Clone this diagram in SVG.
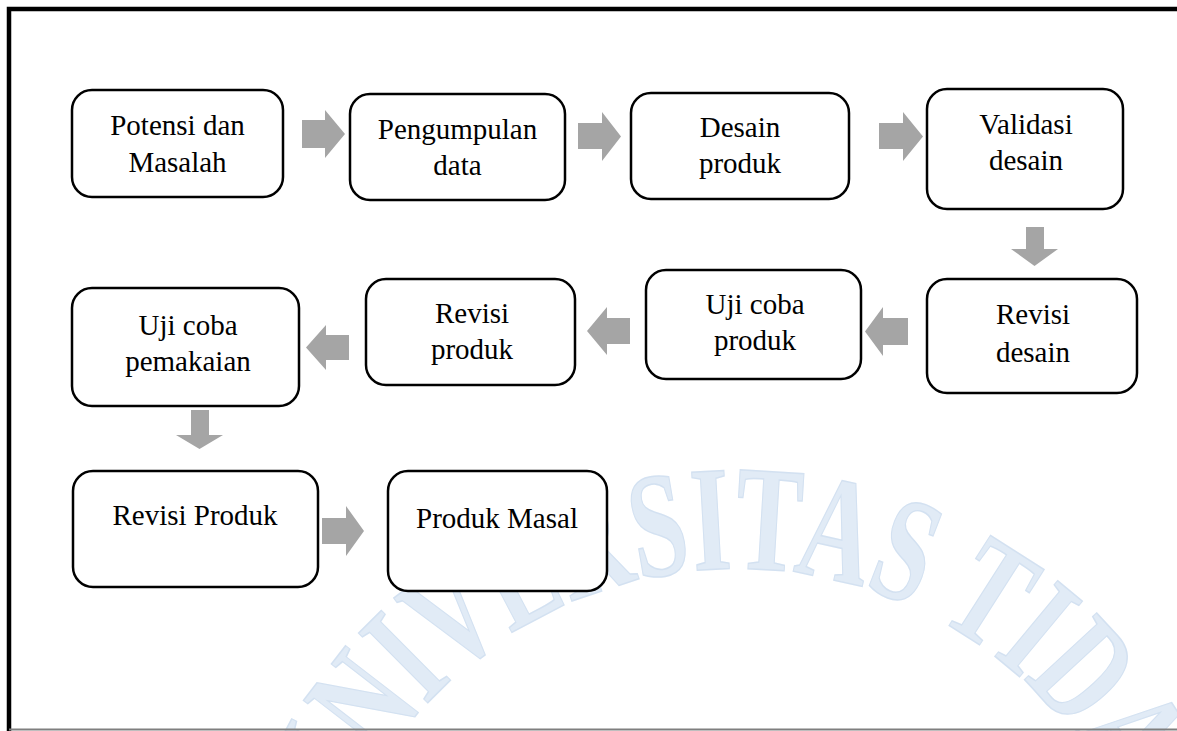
<svg xmlns="http://www.w3.org/2000/svg" width="1177" height="731" viewBox="0 0 1177 731">
<style>
.box{fill:#ffffff;stroke:#000000;stroke-width:2.5}
.lbl{font-family:"Liberation Serif","Times New Roman",serif;font-size:29px;fill:#000000;text-anchor:middle}
.arr{fill:#a5a5a5;stroke:none}
.wm{font-family:"Liberation Serif","Times New Roman",serif;font-size:150px;font-weight:bold;fill:#e1ebf6;stroke:#d3e1f1;stroke-width:1.5}
</style>
<defs>
<path id="wmArc" d="M315.6,955.1 A423,423 0 0,1 1158.4,955.1"/>
</defs>
<rect x="0" y="0" width="1177" height="731" fill="#ffffff"/>
<g id="watermark">
<text class="wm"><textPath href="#wmArc" startOffset="51.4%" text-anchor="middle" textLength="1025" lengthAdjust="spacingAndGlyphs">UNIVERSITAS TIDAR</textPath></text>
</g>
<g id="frame">
<path d="M9,731 V9 H1177" fill="none" stroke="#000000" stroke-width="4.5"/>
<line x1="9" y1="729.5" x2="1177" y2="729.5" stroke="#7f7f7f" stroke-width="2"/>
</g>
<g id="connectors">
<polygon class="arr" points="302,120 325,120 325,110 345,134 325,158 325,148 302,148"/>
<polygon class="arr" points="578,123 602,123 602,112 621,136.5 602,161 602,149 578,149"/>
<polygon class="arr" points="879,123 903,123 903,112 923,136.5 903,161 903,149 879,149"/>
<polygon class="arr" points="1026,227 1044,227 1044,249 1058,249 1034.5,266 1011,249 1026,249"/>
<polygon class="arr" points="908,318 883,318 883,307 865,331.5 883,356 883,345 908,345"/>
<polygon class="arr" points="630,318 607,318 607,307 587,331 607,355 607,344 630,344"/>
<polygon class="arr" points="349,335 326,335 326,325 306,347.5 326,370 326,360 349,360"/>
<polygon class="arr" points="191,410 209,410 209,435 223,435 199.5,449 176,435 191,435"/>
<polygon class="arr" points="322,518 346,518 346,506 364,531 346,556 346,544 322,544"/>
</g>
<g id="n1">
<rect class="box" x="72" y="90" width="211" height="107" rx="20"/>
<text class="lbl" x="177.5" y="135">Potensi dan</text>
<text class="lbl" x="177.5" y="172">Masalah</text>
</g>
<g id="n2">
<rect class="box" x="350" y="94" width="215" height="106" rx="20"/>
<text class="lbl" x="457.5" y="139">Pengumpulan</text>
<text class="lbl" x="457.5" y="175">data</text>
</g>
<g id="n3">
<rect class="box" x="631" y="93" width="218" height="106" rx="20"/>
<text class="lbl" x="740" y="137">Desain</text>
<text class="lbl" x="740" y="173">produk</text>
</g>
<g id="n4">
<rect class="box" x="927" y="89" width="196" height="120" rx="20"/>
<text class="lbl" x="1026" y="134">Validasi</text>
<text class="lbl" x="1026" y="170">desain</text>
</g>
<g id="n5">
<rect class="box" x="927" y="279" width="210" height="114" rx="20"/>
<text class="lbl" x="1033" y="324">Revisi</text>
<text class="lbl" x="1033" y="362">desain</text>
</g>
<g id="n6">
<rect class="box" x="646" y="270" width="215" height="109" rx="20"/>
<text class="lbl" x="755" y="314">Uji coba</text>
<text class="lbl" x="755" y="350">produk</text>
</g>
<g id="n7">
<rect class="box" x="366" y="279" width="209" height="106" rx="20"/>
<text class="lbl" x="472" y="323">Revisi</text>
<text class="lbl" x="472" y="359">produk</text>
</g>
<g id="n8">
<rect class="box" x="72" y="288" width="227" height="118" rx="20"/>
<text class="lbl" x="188" y="335">Uji coba</text>
<text class="lbl" x="188" y="371">pemakaian</text>
</g>
<g id="n9">
<rect class="box" x="73" y="471" width="245" height="116" rx="20"/>
<text class="lbl" x="195" y="525">Revisi Produk</text>
</g>
<g id="n10">
<rect class="box" x="388" y="471" width="219" height="120" rx="20"/>
<text class="lbl" x="497" y="528">Produk Masal</text>
</g>
</svg>
